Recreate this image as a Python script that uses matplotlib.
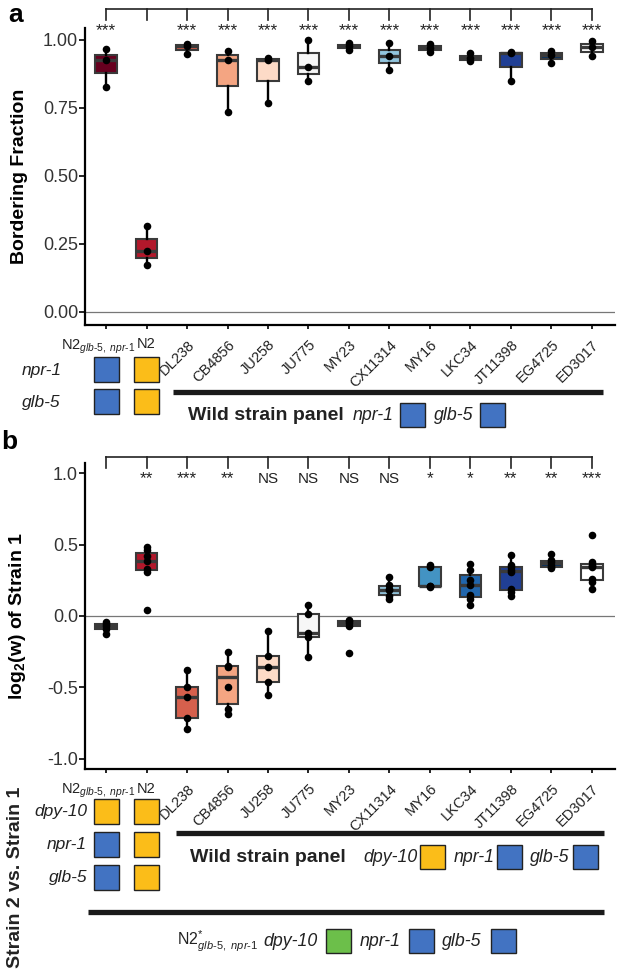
import matplotlib
matplotlib.use("Agg")
import matplotlib.pyplot as plt
from matplotlib.patches import Rectangle
from matplotlib.transforms import blended_transform_factory, ScaledTranslation

plt.rcParams["font.family"] = ["Liberation Sans", "DejaVu Sans"]
plt.rcParams["mathtext.fontset"] = "custom"
plt.rcParams["mathtext.rm"] = "Liberation Sans"
plt.rcParams["mathtext.it"] = "Liberation Sans:italic"
plt.rcParams["mathtext.bf"] = "Liberation Sans:bold"
plt.rcParams["axes.unicode_minus"] = False

# ---- data ----
strains = ["N2glb", "N2", "DL238", "CB4856", "JU258", "JU775", "MY23",
           "CX11314", "MY16", "LKC34", "JT11398", "EG4725", "ED3017"]
tick_labels = [r"N2$_{\mathit{glb‐5,\ npr‐1}}$", "N2", "DL238", "CB4856", "JU258",
               "JU775", "MY23", "CX11314", "MY16", "LKC34", "JT11398", "EG4725", "ED3017"]
box_colors = ["#67001f", "#b2182b", "#d6604d", "#f4a582", "#fddbc7", "#f7f7f7",
              "#d1e5f0", "#92c5de", "#4393c3", "#2166ac", "#203f94", "#053061", "#ffffff"]

bordering = [
    [0.966, 0.927, 0.827],
    [0.317, 0.223, 0.171],
    [0.985, 0.976, 0.948],
    [0.961, 0.927, 0.735],
    [0.935, 0.927, 0.768],
    [1.000, 0.902, 0.848],
    [0.990, 0.976, 0.963],
    [0.988, 0.941, 0.888],
    [0.984, 0.970, 0.957],
    [0.951, 0.933, 0.923],
    [0.955, 0.951, 0.848],
    [0.961, 0.945, 0.915],
    [0.995, 0.975, 0.940],
]
fitness = [
    [-0.04, -0.055, -0.07, -0.09, -0.125],
    [0.48, 0.46, 0.42, 0.385, 0.33, 0.311, 0.045],
    [-0.38, -0.50, -0.567, -0.715, -0.79],
    [-0.25, -0.35, -0.36, -0.495, -0.651, -0.687],
    [-0.108, -0.28, -0.356, -0.459, -0.55],
    [0.074, 0.012, -0.12, -0.148, -0.287],
    [-0.03, -0.035, -0.05, -0.07, -0.26],
    [0.27, 0.215, 0.19, 0.18, 0.14, 0.12],
    [0.355, 0.345, 0.21, 0.21, 0.205],
    [0.366, 0.32, 0.25, 0.215, 0.15, 0.12, 0.074],
    [0.43, 0.36, 0.34, 0.32, 0.31, 0.19, 0.17, 0.14],
    [0.433, 0.39, 0.378, 0.36, 0.34, 0.335],
    [0.565, 0.38, 0.36, 0.35, 0.34, 0.26, 0.24, 0.19],
]
sig_a = ["***", ""] + ["***"] * 11
sig_b = ["", "**", "***", "**", "NS", "NS", "NS", "NS", "*", "*", "**", "**", "***"]

yticks_a = [0.0, 0.25, 0.5, 0.75, 1.0]
yticklabels_a = ["0.00", "0.25", "0.50", "0.75", "1.00"]
yticks_b = [-1.0, -0.5, 0.0, 0.5, 1.0]
yticklabels_b = ["-1.0", "-0.5", "0.0", "0.5", "1.0"]

BLUE, YELLOW, GREEN = "#4273c2", "#fbbd19", "#6cbf4a"
genes_a = ["npr-1", "glb-5"]
alleles_a = [[BLUE, BLUE], [YELLOW, YELLOW]]            # N2glb, N2
genes_b = ["dpy-10", "npr-1", "glb-5"]
alleles_b = [[YELLOW, BLUE, BLUE], [YELLOW, YELLOW, YELLOW]]
wild_a = [("npr-1", BLUE), ("glb-5", BLUE)]
wild_b = [("dpy-10", YELLOW), ("npr-1", BLUE), ("glb-5", BLUE)]
ref_b = [("dpy-10", GREEN), ("npr-1", BLUE), ("glb-5", BLUE)]

W, H = 617, 972
fig = plt.figure(figsize=(W / 100, H / 100), dpi=100)
renderer = fig.canvas.get_renderer()


def px_rect(x0, y0, x1, y1):
    return [x0 / W, 1 - y1 / H, (x1 - x0) / W, (y1 - y0) / H]


ov = fig.add_axes([0, 0, 1, 1], zorder=-1)
ov.set_xlim(0, W)
ov.set_ylim(H, 0)
ov.axis("off")

DARK = "#3a3a3a"


def box_panel(rect, data, sig, ylim, yticks, yticklabels, ylabel,
              bracket_y, tick_y, sig_y):
    ax = fig.add_axes(px_rect(*rect))
    pos = list(range(len(data)))
    bp = ax.boxplot(data, positions=pos, widths=0.54, patch_artist=True,
                    showfliers=False, showcaps=False, whis=1.5,
                    medianprops=dict(color=DARK, lw=2.4, solid_capstyle="butt"),
                    boxprops=dict(edgecolor=DARK, lw=1.5),
                    whiskerprops=dict(color="black", lw=1.7))
    for patch, c in zip(bp["boxes"], box_colors):
        patch.set_facecolor(c)
    for i, vals in enumerate(data):
        ax.scatter([i] * len(vals), vals, s=30, color="black", zorder=5, lw=0)
    ax.axhline(0, color="#777777", lw=0.9, zorder=0)
    ax.set_xlim(-0.52, len(data) - 0.43)
    ax.set_ylim(*ylim)
    ax.set_yticks(yticks)
    ax.set_yticklabels(yticklabels, fontsize=13, color="#333333")
    ax.set_xticks(pos)
    ax.set_xticklabels(tick_labels, fontsize=10.5, color="#222222")
    for s in ["top", "right"]:
        ax.spines[s].set_visible(False)
    for s in ["left", "bottom"]:
        ax.spines[s].set_linewidth(1.6)
    ax.tick_params(axis="y", length=4, width=1.2, pad=1)
    ax.tick_params(axis="x", length=3, width=1.2, pad=6)
    labels = ax.get_xticklabels()
    labels[0].set_transform(labels[0].get_transform() +
                            ScaledTranslation(-8 / 100, 0, fig.dpi_scale_trans))
    for lbl in labels[2:]:
        lbl.set_rotation(45)
        lbl.set_ha("right")
        lbl.set_va("top")
        lbl.set_rotation_mode("anchor")
    ax.set_ylabel(ylabel, fontsize=14, fontweight="bold")
    ax.yaxis.set_label_coords((28 - rect[0]) / (rect[2] - rect[0]), 0.5)

    # significance bracket above the axes
    top, bot = rect[1], rect[3]
    fy = lambda y: (bot - y) / (bot - top)
    tr = blended_transform_factory(ax.transData, ax.transAxes)
    ax.plot([pos[0], pos[-1]], [fy(bracket_y)] * 2, color="#222222", lw=1.2,
            transform=tr, clip_on=False)
    for i, s in enumerate(sig):
        ax.plot([i, i], [fy(bracket_y), fy(tick_y)], color="#222222", lw=1.2,
                transform=tr, clip_on=False)
        if s:
            fs = 11 if s == "NS" else 12.5
            ax.text(i, fy(sig_y), s, ha="center", va="baseline", fontsize=fs,
                    color="#222222", transform=tr, clip_on=False)
    return ax


def genotype_block(ax, rect, alleles, row_y):
    ga = fig.add_axes(px_rect(*rect))
    ga.set_xlim(ax.get_xlim())
    ga.set_ylim(rect[3], rect[1])
    ga.axis("off")
    w = 0.62
    for i, col in enumerate(alleles):
        for yc, c in zip(row_y, col):
            ga.add_patch(Rectangle((i - w / 2, yc - 12.5), w, 25, facecolor=c,
                                   edgecolor="#222222", lw=1.0))
    return ga


def legend_row(x, y, items, gap_text=6, gap_box=9):
    for name, c in items:
        t = ov.text(x, y, name, fontsize=12.8, style="italic", va="center",
                    ha="left", color="#222222")
        bb = t.get_window_extent(renderer)
        x = bb.x1 + gap_text
        ov.add_patch(Rectangle((x, y - 12), 25, 24, facecolor=c,
                               edgecolor="#222222", lw=1.0))
        x += 25 + gap_box


# ---- panel a ----
rect_a = (85, 28, 615, 325)
ax_a = box_panel(rect_a, bordering, sig_a, (-0.048, 1.044), yticks_a, yticklabels_a,
                 "Bordering Fraction", 9.5, 20, 35)
genotype_block(ax_a, (85, 350, 615, 420), alleles_a, [370, 402])
for g, yc in zip(genes_a, [370, 402]):
    ov.text(22, yc, g, fontsize=12.5, style="italic", va="center", ha="left",
            color="#222222")
ov.plot([173, 603], [392, 392], lw=3.8, color="#1a1a1a", solid_capstyle="butt")
ov.text(188, 415, "Wild strain panel", fontsize=14, fontweight="bold",
        va="center", ha="left", color="#222222")
legend_row(353, 415, wild_a, gap_text=6, gap_box=9)
ov.text(16, 15, "a", fontsize=19, fontweight="bold", ha="center", va="center")

# ---- panel b ----
rect_b = (85, 463, 615, 769)
ax_b = box_panel(rect_b, fitness, sig_b, (-1.07, 1.07), yticks_b, yticklabels_b,
                 r"log$_\mathbf{2}$(w) of Strain 1", 457, 468, 483)
genotype_block(ax_b, (85, 795, 615, 895), alleles_b, [811, 844, 877])
for g, yc in zip(genes_b, [811, 844, 877]):
    ov.text(87, yc, g, fontsize=12.5, style="italic", va="center", ha="right",
            color="#222222")
ov.plot([176, 604], [833, 833], lw=3.8, color="#1a1a1a", solid_capstyle="butt")
ov.text(190, 857, "Wild strain panel", fontsize=14, fontweight="bold",
        va="center", ha="left", color="#222222")
legend_row(363, 857, wild_b, gap_text=3, gap_box=8)
ov.plot([88, 604], [912, 912], lw=3.8, color="#1a1a1a", solid_capstyle="butt")
ov.text(177, 941, r"N2$^{*}_{\mathit{glb‐5,\ npr‐1}}$", fontsize=11.5,
        va="center", ha="left", color="#222222")
legend_row(263, 941, ref_b, gap_text=9, gap_box=8)
ov.text(16, 877, "Strain 2 vs. Strain 1", fontsize=14, fontweight="bold",
        rotation=90, ha="center", va="center", color="#222222")
ov.text(9, 442, "b", fontsize=19, fontweight="bold", ha="center", va="center")

fig.savefig("out.png", dpi=100)
